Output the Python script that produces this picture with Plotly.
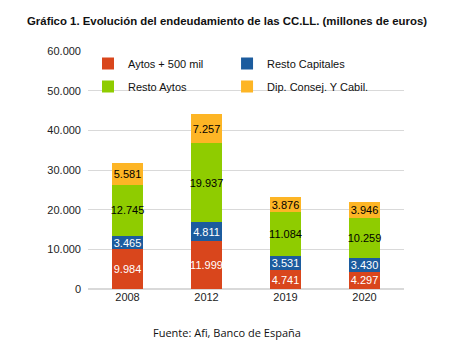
import plotly.graph_objects as go

years = ["2008", "2012", "2019", "2020"]
aytos_500 = [9984, 11999, 4741, 4297]
resto_capitales = [3465, 4811, 3531, 3430]
resto_aytos = [12745, 19937, 11084, 10259]
dip_consej = [5581, 7257, 3876, 3946]

series = [
    ("Aytos + 500 mil", aytos_500, "#D9461C", "white", "legend"),
    ("Resto Capitales", resto_capitales, "#1C5C9E", "white", "legend2"),
    ("Resto Aytos", resto_aytos, "#8FCC00", "black", "legend"),
    ("Dip. Consej. Y Cabil.", dip_consej, "#FDB525", "black", "legend2"),
]

fig = go.Figure()
for i, (name, vals, color, tcolor, leg) in enumerate(series):
    fig.add_trace(go.Bar(
        x=years, y=vals, name=name,
        marker=dict(color=color, line=dict(width=0)),
        texttemplate="%{y:,.0f}", textposition="inside",
        insidetextanchor="middle", textangle=0,
        constraintext="none",
        textfont=dict(color=tcolor, size=11, family="Liberation Sans, Arial"),
        legend=leg, legendgroup=name,
    ))

PL, PR, PT, PB = 88, 59, 51, 75
W, H = 463, 364
pw, ph = W - PL - PR, H - PT - PB

legend_common = dict(
    traceorder="grouped", font=dict(size=11, family="Liberation Sans, Arial", color="#111"),
    bgcolor="rgba(0,0,0,0)", itemwidth=30, tracegroupgap=4,
    yanchor="top", xanchor="left", orientation="v",
)

fig.update_layout(
    width=W, height=H,
    barmode="stack", bargap=0.6,
    separators=",.",
    paper_bgcolor="white", plot_bgcolor="white",
    margin=dict(l=PL, r=PR, t=PT, b=PB),
    font=dict(family="Liberation Sans, Arial", size=11, color="#222"),
    title=dict(
        text="<b>Gráfico 1. Evolución del endeudamiento de las CC.LL. (millones de euros)</b>",
        x=27/W, xanchor="left", xref="container",
        y=1 - 21/H, yanchor="middle", yref="container",
        font=dict(size=11.4, family="Liberation Sans, Arial", color="#111"),
    ),
    xaxis=dict(type="category", showline=False, ticks="", tickfont=dict(size=11, color="#222")),
    yaxis=dict(range=[0, 60000], dtick=10000, tickformat=",.0f",
               showgrid=True, gridcolor="#D9D9D9", gridwidth=1,
               zeroline=True, zerolinecolor="#D9D9D9", showline=False,
               ticklabelstandoff=6,
               tickfont=dict(size=11, color="#222")),
    legend=dict(x=0.0, y=1.0 + 2/ph, **legend_common),
    legend2=dict(x=0.44, y=1.0 + 2/ph, **legend_common),
    annotations=[dict(
        text="Fuente: Afi, Banco de España", xref="paper", yref="paper",
        x=(227 - PL) / pw, y=(H - PB - 332) / ph, xanchor="center", yanchor="middle",
        showarrow=False, font=dict(size=11, family="Open Sans, Noto Sans", color="#111"),
    )],
)

fig.write_html("out.html", config={"displayModeBar": False},
               post_script="document.body.style.margin='0';")
